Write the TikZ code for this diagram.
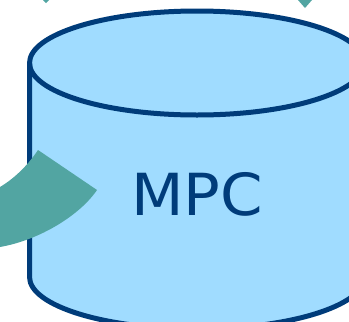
\documentclass[tikz,border=0pt]{standalone}
\usepackage{fontspec}
\setmainfont{DejaVu Sans}
\definecolor{mpcline}{RGB}{0,60,122}
\definecolor{mpcfill}{RGB}{160,220,255}
\definecolor{flowteal}{RGB}{82,165,162}

\begin{document}
\begin{tikzpicture}[x=1pt,y=1pt]
\tikzstyle{every node}+=[inner sep=0pt]
\tikzstyle{drum}=[draw=mpcline,fill=mpcfill,line width=5pt]
\tikzstyle{flow}=[fill=flowteal]
\useasboundingbox (0,0) rectangle (349,-322);
\clip (0,0) rectangle (349,-322);
% store
\draw [drum] (29.5,-63) -- (29.5,-277) arc (180:360:167.5 and 52) -- (364.5,-63) arc (0:180:167.5 and 52) -- cycle;
\draw [mpcline,line width=5pt] (29.5,-63) arc (180:360:167.5 and 52);
\node [text=mpcline,font=\fontsize{58}{60}\selectfont] (mpc) at (197,-194) {\scalebox{1.05}[1]{MPC}};
% incoming flows
\fill [flow] (38,-150) -- (97,-190) .. controls (80,-215) and (40,-240) .. (0,-247) -- (0,-187) .. controls (15,-178) and (28,-165) .. (38,-150);
\fill [flow] (43,0) -- (49,0) -- (46,-3) -- cycle;
\fill [flow] (298,0) -- (312,0) -- (305,-8) -- cycle;
\end{tikzpicture}
\end{document}
